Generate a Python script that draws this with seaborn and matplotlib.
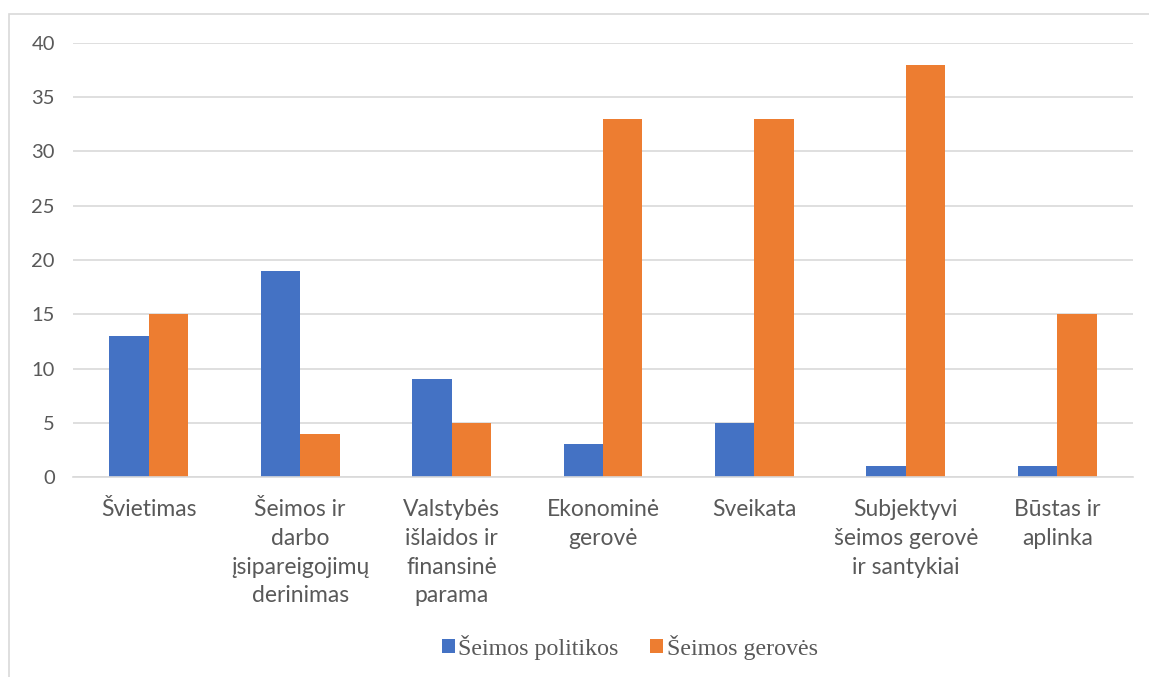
import matplotlib
matplotlib.use("Agg")
import matplotlib.pyplot as plt
import seaborn as sns
import pandas as pd
from matplotlib.patches import Rectangle

categories = ["Švietimas", "Šeimos ir\ndarbo\nįsipareigojimų\nderinimas",
              "Valstybės\nišlaidos ir\nfinansinė\nparama", "Ekonominė\ngerovė",
              "Sveikata", "Subjektyvi\nšeimos gerovė\nir santykiai", "Būstas ir\naplinka"]
series_names = ["Šeimos politikos", "Šeimos gerovės"]
politikos = [13, 19, 9, 3, 5, 1, 1]
gerove = [15, 4, 5, 33, 33, 38, 15]
y_ticks = [0, 5, 10, 15, 20, 25, 30, 35, 40]

df = pd.DataFrame({
    "cat": categories * 2,
    "series": [series_names[0]] * len(categories) + [series_names[1]] * len(categories),
    "value": politikos + gerove,
})

sns.set_theme(style="white")
plt.rcParams['font.family'] = ['Lato', 'DejaVu Sans']

W, H = 1149, 677
fig = plt.figure(figsize=(W / 100, H / 100), dpi=100)
ax = fig.add_axes([73 / W, 1 - 477 / H, (1133 - 73) / W, (477 - 43) / H])

sns.barplot(data=df, x="cat", y="value", hue="series", order=categories,
            hue_order=series_names, palette=["#4472C4", "#ED7D31"],
            width=0.52, saturation=1, ax=ax, legend=True)

ax.set_ylim(0, 40)
ax.set_xlim(-0.5, len(categories) - 0.5)
ax.set_yticks(y_ticks)
ax.yaxis.grid(True, color="#d9d9d9", linewidth=1.2)
ax.set_axisbelow(True)
for s in ["top", "right", "left"]:
    ax.spines[s].set_visible(False)
ax.spines["bottom"].set_color("#d9d9d9")
ax.spines["bottom"].set_linewidth(1.2)
ax.tick_params(axis="both", length=0, colors="#595959")
ax.tick_params(axis="y", pad=13, labelsize=14.5)
ax.tick_params(axis="x", pad=16, labelsize=16.5)
for lbl in ax.get_xticklabels():
    lbl.set_linespacing(1.45)
    lbl.set_verticalalignment("top")
ax.set_xlabel("")
ax.set_ylabel("")
for b in ax.patches:
    b.set_edgecolor("none")

handles, labels = ax.get_legend_handles_labels()
ax.legend_.remove()
fig.legend(handles, labels, loc="center", bbox_to_anchor=(0.548, 1 - 647 / H),
           ncol=2, frameon=False, handlelength=0.55, handleheight=0.55,
           handletextpad=0.15, columnspacing=1.3,
           prop={"family": "Liberation Serif", "size": 17.3},
           labelcolor="#595959")

fig.patches.append(Rectangle((8.5 / W, -0.1), 1.2, 1 - 13.5 / H + 0.1,
                             transform=fig.transFigure, fill=False,
                             edgecolor="#d9d9d9", linewidth=1.2))

fig.savefig("out.png", dpi=100)
